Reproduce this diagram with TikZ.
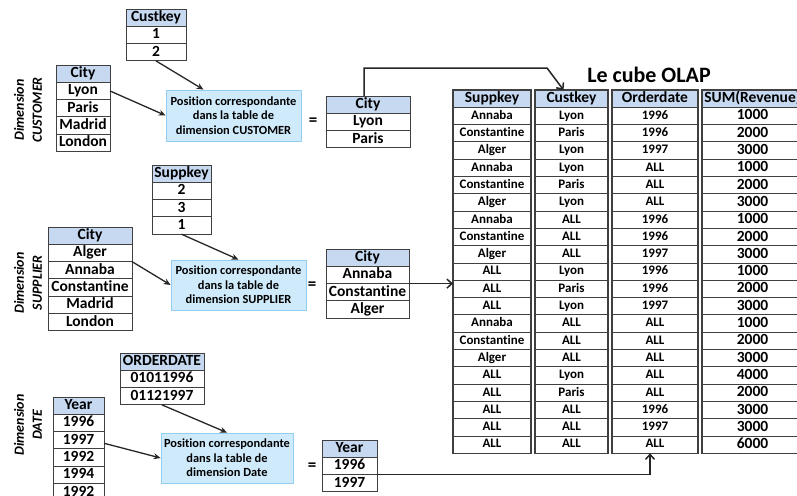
\documentclass[tikz,border=0pt]{standalone}
\usepackage{fontspec}
\setmainfont{Carlito}[Ligatures=NoCommon]
\usetikzlibrary{arrows.meta}

\definecolor{hdrblue}{HTML}{C6D9F1}
\definecolor{boxfill}{HTML}{CFEBFB}
\definecolor{boxline}{HTML}{93CDEF}
\definecolor{gridline}{HTML}{404040}

\tikzset{
  cell/.style={draw=gridline, line width=0.9pt, fill=white, inner sep=0pt, outer sep=0pt,
    minimum height=17.3pt, text height=10.5pt, text depth=2.5pt,
    font=\fontsize{15.5}{17}\selectfont\bfseries},
  hdr/.style={cell, fill=hdrblue},
  small/.style={font=\fontsize{13}{15}\selectfont\bfseries, text height=9pt, text depth=2.5pt},
  colframe/.style={draw=gridline, line width=1.6pt},
  posbox/.style={draw=boxline, fill=boxfill, line width=0.8pt, align=center, inner sep=0pt,
    font=\fontsize{12.4}{14.5}\selectfont\bfseries},
  dimlabel/.style={rotate=90, align=center, font=\fontsize{14}{18}\selectfont\bfseries\itshape},
  eqsign/.style={font=\fontsize{17}{18}\selectfont\bfseries},
  arr/.style={-{Stealth[length=7pt,width=6pt]}, line width=1.3pt, draw=black!85},
  link/.style={-{Straight Barb[length=5pt,width=9pt]}, line width=1.5pt, draw=black!85},
}

% small table: name, centre x, top y, width, header, rows
\newcommand\dimtab[6]{%
  \node[hdr, minimum width=#4pt, anchor=north] (#1-0) at (#2,#3) {#5};
  \foreach \t [count=\i, remember=\i as \j (initially 0)] in {#6}
    \node[cell, minimum width=#4pt, anchor=north] (#1-\i) at (#1-\j.south) {\t};
}
% one column of the cube: name, centre x, width, header, cell style, rows
\newcommand\cubecol[6]{%
  \node[hdr, minimum width=#3pt, anchor=north] (#1-0) at (#2,90) {#4};
  \foreach \t [count=\i, remember=\i as \j (initially 0)] in {#6}
    \node[cell, #5, minimum width=#3pt, anchor=north] (#1-\i) at (#1-\j.south) {\t};
  \draw[colframe] (#1-0.north west) rectangle (#1-20.south east);
}

\begin{document}
\begin{tikzpicture}[x=1pt, y=-1pt]
\path[use as bounding box, clip] (0,0) rectangle (797,495);

% ---------- customer dimension ----------
\node[dimlabel] (dcust) at (28,110) {Dimension\\CUSTOMER};
\dimtab{ck}{156}{9}{60}{Custkey}{1,2}
\dimtab{cc}{83}{65}{54}{City}{Lyon,Paris,Madrid,London}
\node[posbox, minimum width=135pt, minimum height=51pt] (bc) at (233.5,115.5)
  {Position correspondante\\dans la table de\\dimension CUSTOMER};
\node[eqsign] (eq1) at (313,122) {=};
\dimtab{rc}{368}{96}{84}{City}{Lyon,Paris}
\draw[arr] (ck-2.south) -- ([xshift=-30pt]bc.north);
\draw[arr] (cc-1.east) -- (bc.west);

% ---------- supplier dimension ----------
\node[dimlabel] (dsup) at (28,283) {Dimension\\SUPPLIER};
\dimtab{sk}{181.5}{165}{59}{Suppkey}{2,3,1}
\dimtab{cs}{90}{227}{84}{City}{Alger,Annaba,Constantine,Madrid,London}
\node[posbox, minimum width=135pt, minimum height=50pt] (bs) at (238.5,285)
  {Position correspondante\\dans la table de\\dimension SUPPLIER};
\node[eqsign] (eq2) at (312,286) {=};
\dimtab{rs}{367.5}{249}{83}{City}{Annaba,Constantine,Alger}
\draw[arr] (sk-3.south) -- (bs.north);
\draw[arr] (cs-1.south east) -- (bs.west);

% ---------- date dimension ----------
\node[dimlabel] (ddate) at (28,425) {Dimension\\DATE};
\dimtab{od}{162}{353}{84}{ORDERDATE}{01011996,01121997}
\dimtab{yr}{78.5}{397}{51}{Year}{1996,1997,1992,1994,1992}
\node[posbox, minimum width=132pt, minimum height=50pt] (bd) at (227,458)
  {Position correspondante\\dans la table de\\dimension Date};
\node[eqsign] (eq3) at (312,467) {=};
\dimtab{ry}{349.5}{440}{55}{Year}{1996,1997}
\draw[arr] (od-2.south) -- (bd.north);
\draw[arr] ([yshift=-3pt]yr-2.east) -- (bd.west);

% ---------- OLAP cube ----------
\node[anchor=base, font=\fontsize{22}{24}\selectfont\bfseries] (title) at (649,82) {Le cube OLAP};
\cubecol{s}{492}{78}{Suppkey}{small}{Annaba,Constantine,Alger,Annaba,Constantine,Alger,Annaba,Constantine,Alger,ALL,ALL,ALL,Annaba,Constantine,Alger,ALL,ALL,ALL,ALL,ALL}
\cubecol{c}{571.5}{73}{Custkey}{small}{Lyon,Paris,Lyon,Lyon,Paris,Lyon,ALL,ALL,ALL,Lyon,Paris,Lyon,ALL,ALL,ALL,Lyon,Paris,ALL,ALL,ALL}
\cubecol{o}{655}{86}{Orderdate}{small}{1996,1996,1997,ALL,ALL,ALL,1996,1996,1997,1996,1996,1997,ALL,ALL,ALL,ALL,ALL,1996,1997,ALL}
\cubecol{v}{752.5}{101}{SUM(Revenue)}{}{1000,2000,3000,1000,2000,3000,1000,2000,3000,1000,2000,3000,1000,2000,3000,4000,2000,3000,3000,6000}

% ---------- links into the cube ----------
\coordinate (bend) at (547,68);
\draw[link] ([xshift=-4pt]rc-0.north) |- (bend) -- ([xshift=-8pt]c-0.north);
\draw[link] (rs-1.south east) -- (rs-1.south east -| s-0.west);
\draw[link] (ry-1.south east) -| ([xshift=-5pt]o-20.south);
\end{tikzpicture}
\end{document}
